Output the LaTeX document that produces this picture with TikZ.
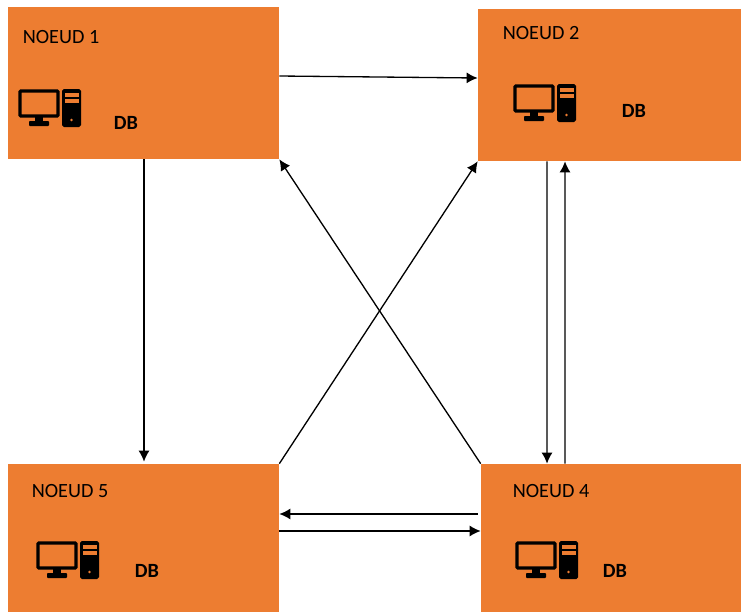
\documentclass[tikz,border=0pt]{standalone}
\usepackage{fontspec}
\setmainfont{Carlito}
\usetikzlibrary{arrows.meta}
\definecolor{noeudfill}{HTML}{ED7D31}
\tikzset{
  noeud/.style={fill=noeudfill,inner sep=0pt,minimum height=3.04cm},
  titre/.style={inner sep=0pt,font=\fontsize{11.5}{13}\selectfont,text=black},
  base/.style={inner sep=0pt,font=\fontsize{11.5}{13}\selectfont\bfseries,text=black},
  lien/.style={line width=.75pt,-{Latex[length=.22cm,width=.22cm]}},
  poste/.pic={
      \draw[line width=1.9pt,rounded corners=.5pt] (1,2) rectangle (39,27);
      \fill (16,27) rectangle (24,33);
      \fill[rounded corners=.5pt] (10,32) rectangle (30,37);
      \fill[rounded corners=1pt] (43,0) rectangle (62,38);
      \fill[noeudfill] (45.5,3.5) rectangle (59.5,7.5);
      \fill[noeudfill] (45.5,10) rectangle (59.5,13.5);
      \fill[noeudfill] (52.5,31) circle (1.4);
  }
}
\begin{document}
\begin{tikzpicture}[x=.02cm,y=-.02cm]
  \useasboundingbox (0,0) rectangle (741,612);
  \node[noeud,minimum width=5.42cm] (noeud1) at (143.5,83) {};
  \node[noeud,minimum width=5.26cm] (noeud2) at (609.5,85) {};
  \node[noeud,minimum width=5.42cm,minimum height=2.96cm] (noeud5) at (143.5,538) {};
  \node[noeud,minimum width=5.2cm,minimum height=2.96cm] (noeud4) at (611,538) {};
  \node[titre] (titre1) at (61,37) {NOEUD 1};
  \node[titre] (titre2) at (541,33) {NOEUD 2};
  \node[titre] (titre5) at (70,491) {NOEUD 5};
  \node[titre] (titre4) at (551,491) {NOEUD 4};
  \node[base] (base1) at (126,123) {DB};
  \node[base] (base2) at (634,111) {DB};
  \node[base] (base5) at (147,571) {DB};
  \node[base] (base4) at (615,571) {DB};
  \pic at (19,89) {poste};
  \pic at (514,84) {poste};
  \pic at (37,541) {poste};
  \pic at (516,541) {poste};
  \draw[lien] ([yshift=.14cm]noeud1.east) -- ([yshift=.14cm]noeud2.west);
  \draw[lien] ([xshift=.01cm]noeud1.south) -- ([xshift=.01cm,yshift=.04cm]noeud5.north);
  \draw[lien] ([xshift=-1.25cm]noeud2.south) -- ([xshift=-1.28cm]noeud4.north);
  \draw[lien] ([xshift=-.92cm]noeud4.north) -- ([xshift=-.89cm]noeud2.south);
  \draw[lien] (noeud4.north west) -- (noeud1.south east);
  \draw[lien] (noeud5.north east) -- (noeud2.south west);
  \draw[lien] ([xshift=-.06cm,yshift=.48cm]noeud4.west) -- ([yshift=.48cm]noeud5.east);
  \draw[lien] ([yshift=.14cm]noeud5.east) -- ([yshift=.14cm]noeud4.west);
\end{tikzpicture}
\end{document}
